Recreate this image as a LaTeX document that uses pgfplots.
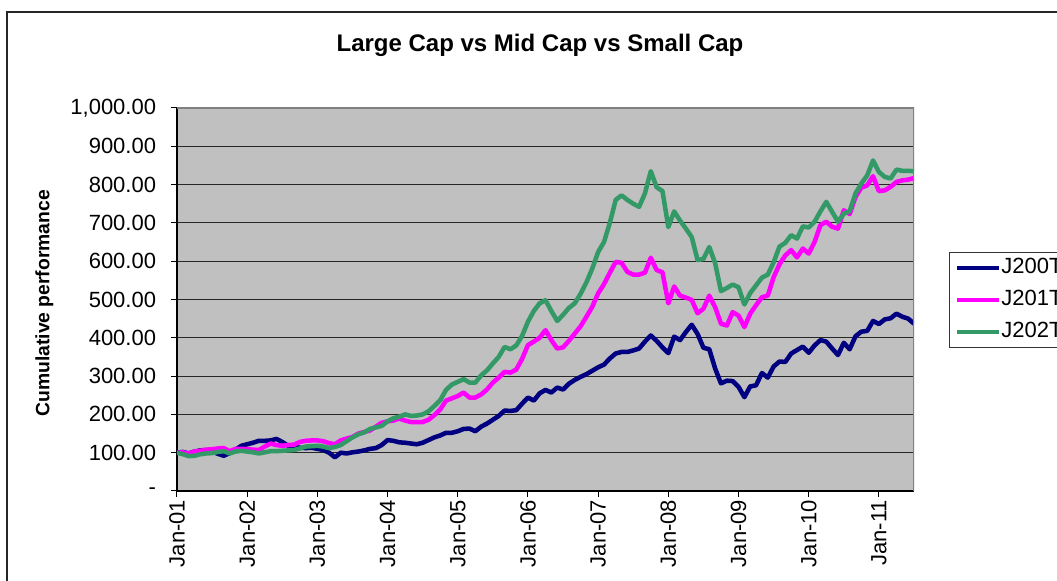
\documentclass[border=0pt]{standalone}
\usepackage{fontspec}
\setmainfont{Liberation Sans}
\usepackage{pgfplots}
\usepackage{pgfplotstable}
\pgfplotsset{compat=1.18}
\definecolor{c200}{HTML}{000080}
\definecolor{c201}{HTML}{FF00FF}
\definecolor{c202}{HTML}{339966}
\definecolor{plotbg}{HTML}{C0C0C0}
\definecolor{bordergray}{HTML}{808080}

\pgfplotstableread{
m b p g
0 100 100 100
1 102 101 96
2 98 98 91
3 103 103 92
4 106 105 96
5 107 108 98
6 103 109 99
7 97 111 102
8 92 112 104
9 99 104 98
10 108 110 103
11 118 110 105
12 122 109 103
13 126 108 101
14 131 107 98
15 131 116 101
16 132 124 104
17 136 120 104
18 128 118 105
19 118 120 106
20 115 121 107
21 113 128 111
22 112 131 116
23 113 132 117
24 110 132 118
25 107 130 116
26 100 125 112
27 88 122 115
28 100 132 120
29 98 137 130
30 101 141 140
31 103 150 148
32 106 154 153
33 110 158 162
34 112 168 166
35 120 178 170
36 133 182 182
37 131 184 190
38 127 189 194
39 126 184 200
40 124 180 196
41 122 180 197
42 126 180 200
43 133 186 208
44 140 198 222
45 145 213 237
46 152 236 264
47 152 242 278
48 156 248 285
49 162 257 292
50 163 244 283
51 156 244 283
52 168 252 302
53 176 265 315
54 186 283 333
55 196 296 350
56 210 311 376
57 209 309 370
58 211 317 380
59 228 345 405
60 244 381 442
61 236 390 470
62 255 400 490
63 264 420 498
64 257 394 470
65 270 372 444
66 265 375 460
67 280 392 478
68 290 411 490
69 298 430 515
70 305 455 545
71 314 481 581
72 323 516 624
73 330 540 650
74 346 570 700
75 359 598 760
76 363 596 772
77 363 572 760
78 367 565 750
79 372 565 742
80 390 570 777
81 406 609 835
82 392 577 793
83 375 571 783
84 360 490 689
85 403 534 730
86 394 510 706
87 415 505 685
88 434 499 663
89 410 464 603
90 374 476 606
91 370 510 637
92 320 480 595
93 281 437 522
94 288 432 530
95 287 467 539
96 272 458 532
97 245 428 487
98 273 463 517
99 276 485 537
100 308 506 557
101 296 510 565
102 325 558 597
103 338 592 638
104 337 615 648
105 359 629 668
106 368 610 659
107 377 633 691
108 361 620 688
109 380 650 703
110 394 694 730
111 390 703 755
112 372 690 729
113 355 685 703
114 387 733 724
115 370 723 731
116 404 768 777
117 416 792 803
118 418 798 824
119 444 822 863
120 436 783 833
121 448 785 820
122 451 794 816
123 463 807 839
124 455 811 836
125 450 813 836
126 437 817 835
}\datatable

\begin{document}
\begin{tikzpicture}
\useasboundingbox (0,0) rectangle (792.75pt,435.75pt);
\fill[white] (0,0) rectangle (792.75pt,435.75pt);
\draw[line width=1.3pt, black!85] (5.25pt,-10pt) -- (5.25pt,426.75pt) -- (810pt,426.75pt);
\node[font=\fontsize{18}{20}\selectfont\bfseries] at (405pt,402pt) {Large Cap vs Mid Cap vs Small Cap};
\begin{axis}[
  at={(132.75pt,67.5pt)}, anchor=south west,
  scale only axis, width=552.75pt, height=287.25pt,
  xmin=0, xmax=126, ymin=0, ymax=1000,
  axis lines*=left,
  axis line style={black, line width=0.9pt},
  axis background/.style={fill=plotbg},
  ytick={0,100,...,1000},
  yticklabels={-\hspace{8pt},100.00,200.00,300.00,400.00,500.00,600.00,700.00,800.00,900.00,{1,000.00}},
  xtick={0,12,...,120},
  xticklabels={Jan-01,Jan-02,Jan-03,Jan-04,Jan-05,Jan-06,Jan-07,Jan-08,Jan-09,Jan-10,Jan-11},
  tick align=outside, major tick length=4.5pt,
  tick style={black, line width=0.75pt},
  ymajorgrids, grid style={black!85, line width=0.75pt},
  yticklabel style={font=\fontsize{16.5}{18}\selectfont, inner sep=2pt, xshift=-9pt},
  xticklabel style={rotate=90, anchor=east, font=\fontsize{16.5}{18}\selectfont, inner sep=2pt},
  ylabel={Cumulative performance},
  every axis y label/.style={at={(axis description cs:-0.180,0.49)}, rotate=90, anchor=center, font=\fontsize{14.5}{16}\selectfont\bfseries},
  legend style={at={(1.0475,0.624)}, anchor=north west, draw=black!80, line width=0.75pt, fill=white,
    font=\fontsize{16.5}{18}\selectfont, inner xsep=4pt, inner ysep=3.5pt, row sep=8pt, column sep=0pt,
    nodes={inner sep=0pt, text height=12pt, text depth=4pt, anchor=west}},
  legend cell align=left,
  legend image code/.code={\draw[#1, line width=3.4pt] (0pt,0pt) -- (31.5pt,0pt);},
]
\addplot[c200, line width=3.4pt, line join=round] table[x=m,y=b]{\datatable};
\addlegendentry{J200T}
\addplot[c201, line width=3.4pt, line join=round] table[x=m,y=p]{\datatable};
\addlegendentry{J201T}
\addplot[c202, line width=3.4pt, line join=round] table[x=m,y=g]{\datatable};
\addlegendentry{J202T}
\draw[bordergray, line width=0.9pt] (rel axis cs:0,1) -- (rel axis cs:1,1) -- (rel axis cs:1,0);
\end{axis}
\end{tikzpicture}
\end{document}
